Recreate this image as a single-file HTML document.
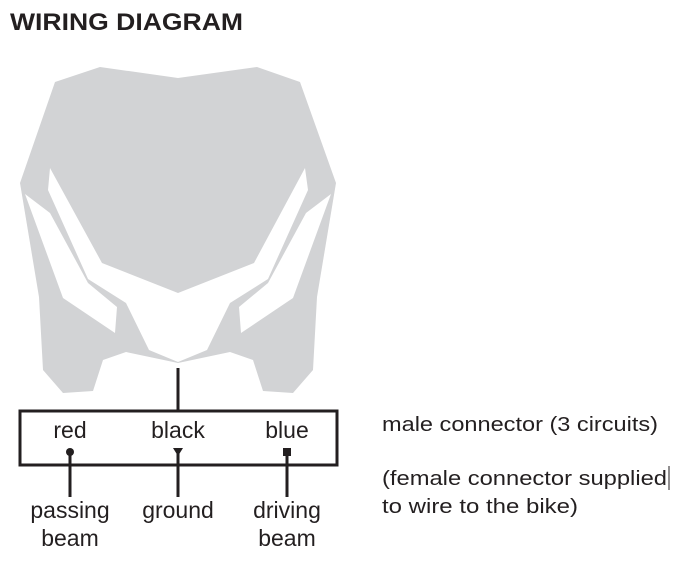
<!DOCTYPE html>
<html><head><style>body{margin:0;background:#fff}svg{display:block}</style></head>
<body>
<svg width="683" height="580" viewBox="0 0 683 580" xmlns="http://www.w3.org/2000/svg" font-family="Liberation Sans, sans-serif" fill="#231f20">
<text x="10" y="30" font-size="24" font-weight="bold" textLength="233" lengthAdjust="spacingAndGlyphs">WIRING DIAGRAM</text>
<polygon fill="#d2d3d5" points="100,67 178,78 257,67 300,82 336,183 317,297 313,370 293,393 263,391 253,360 230,352 178,363 126,352 103,360 93,391 63,393 43,370 39,297 20,183 55,82"/>
<polygon fill="#fff" points="50,168 102,263 178,293 254,263 305,168 308,190 268,279 230,303 207,350 178,362 149,350 126,303 88,279 48,190"/>
<polygon fill="#fff" points="25,194 50,213 88,283 117,307 115,333 63,298"/>
<polygon fill="#fff" points="331,194 306,213 268,283 239,307 241,333 293,298"/>
<line x1="178" y1="368" x2="178" y2="411" stroke="#231f20" stroke-width="3"/>
<rect x="20" y="411" width="317" height="54" fill="none" stroke="#231f20" stroke-width="3"/>
<g font-size="23" text-anchor="middle">
<text x="70" y="438">red</text>
<text x="178" y="438">black</text>
<text x="287" y="438">blue</text>
<text x="70" y="518">passing</text>
<text x="70" y="546">beam</text>
<text x="178" y="518">ground</text>
<text x="287" y="518">driving</text>
<text x="287" y="546">beam</text>
</g>
<circle cx="70" cy="452" r="4"/>
<polygon points="173,448 183,448 178,456"/>
<rect x="283" y="448" width="8" height="8"/>
<g stroke="#231f20" stroke-width="3">
<line x1="70" y1="452" x2="70" y2="497"/>
<line x1="178" y1="452" x2="178" y2="497"/>
<line x1="287" y1="452" x2="287" y2="497"/>
</g>
<g font-size="20">
<text x="382" y="431" textLength="276" lengthAdjust="spacingAndGlyphs">male connector (3 circuits)</text>
<text x="382" y="485" textLength="285" lengthAdjust="spacingAndGlyphs">(female connector supplied</text>
<text x="382" y="513" textLength="196" lengthAdjust="spacingAndGlyphs">to wire to the bike)</text>
</g>
<line x1="669" y1="466" x2="669" y2="490" stroke="#231f20" stroke-width="1"/>
</svg>
</body></html>
